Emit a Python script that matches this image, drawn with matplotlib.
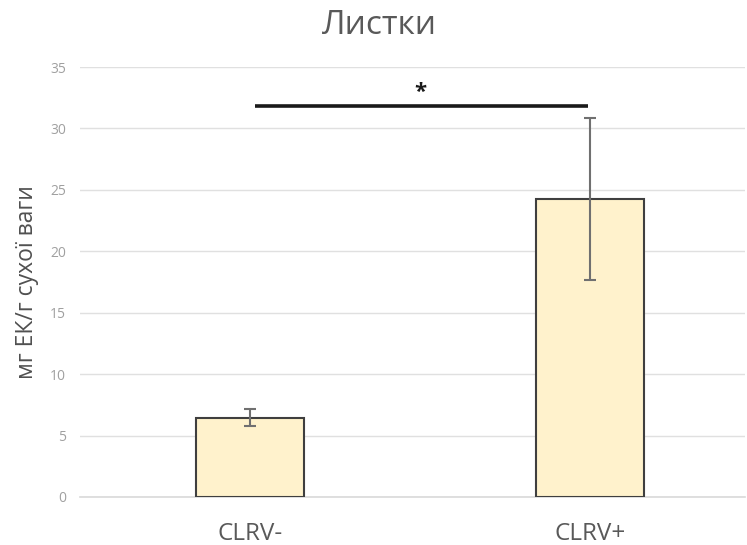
import matplotlib
matplotlib.use('Agg')
import matplotlib.pyplot as plt

plt.rcParams['font.family'] = ['Open Sans', 'DejaVu Sans']

categories = ['CLRV-', 'CLRV+']
values = [6.45, 24.25]
errors = [0.7, 6.6]
yticks = [0, 5, 10, 15, 20, 25, 30, 35]
sig_level = 31.8

fig = plt.figure(figsize=(7.47, 5.45), dpi=100)
ax = fig.add_axes([80 / 747, 1 - 497 / 545, 665 / 747, 430 / 545])

x = list(range(len(categories)))
ax.bar(x, values, width=0.315, color='#FFF2CC', edgecolor='#3F3F3F',
       linewidth=1.5, zorder=2)
ax.errorbar(x, values, yerr=errors, fmt='none', ecolor='#707070',
            elinewidth=1.5, capsize=4, capthick=1.5, zorder=3)

# significance bar
ax.plot([x[0] + 0.015, x[1] - 0.005], [sig_level, sig_level], color='#1A1A1A',
        linewidth=2.6, solid_capstyle='butt', zorder=3)
ax.text((x[0] + x[1]) / 2, sig_level + 0.25, '*', ha='center', va='bottom',
        fontsize=16, fontweight='bold', color='#1A1A1A')

ax.set_xlim(-0.5, 1.456)
ax.set_ylim(0, 35)
ax.set_yticks(yticks)
ax.set_xticks(x)
ax.set_xticklabels(categories, fontsize=17.5, color='#595959')
ax.tick_params(axis='y', labelsize=10, colors='#A0A0A0', length=0, pad=10)
ax.tick_params(axis='x', length=0, pad=18)
ax.grid(axis='y', color='#E0E0E0', linewidth=1, zorder=0)
ax.axhline(0, color='#D9D9D9', linewidth=1.2, clip_on=False, zorder=1)
ax.set_axisbelow(True)
for s in ax.spines.values():
    s.set_visible(False)

ax.set_ylabel('мг ЕК/г сухої ваги', fontsize=16.5, color='#505050', labelpad=8)
fig.text(379 / 747, 1 - 26 / 545, 'Листки', ha='center', va='center',
         fontsize=24, color='#595959')

fig.savefig('out.png', dpi=100, facecolor='white')
